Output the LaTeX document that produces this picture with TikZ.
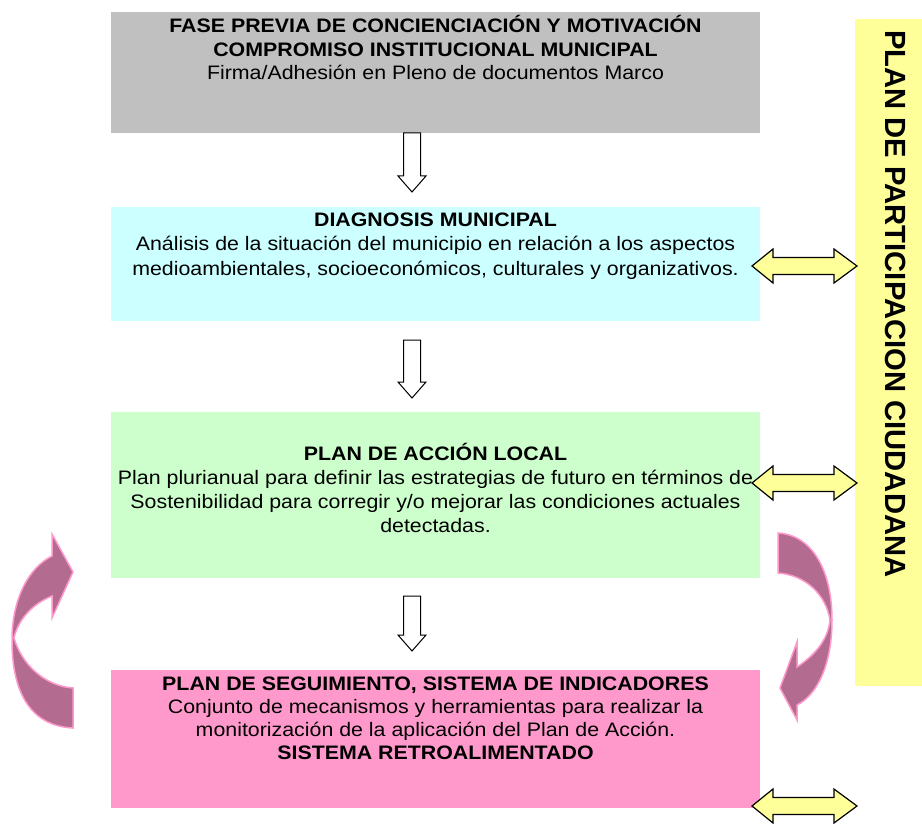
\documentclass[tikz,border=0pt]{standalone}
\usepackage{fontspec}
\setmainfont{Liberation Sans}[FakeStretch=1.095]
\newfontfamily\vertfont{Liberation Sans}
\definecolor{grisbox}{HTML}{C0C0C0}
\definecolor{cyanbox}{HTML}{CCFFFF}
\definecolor{greenbox}{HTML}{CCFFCC}
\definecolor{pinkbox}{HTML}{FF99CC}
\definecolor{yellowbox}{HTML}{FFFF99}
\definecolor{mauve}{HTML}{B36B8F}
\definecolor{pinkedge}{HTML}{FF99CC}
\newcommand{\fl}{\rule{0pt}{18pt}}
\newcommand{\blkdown}[3]{%
  \draw[downarr] (#1-8.5,#2) -- (#1+8.5,#2) -- (#1+8.5,#3-16) -- (#1+14,#3-16)
    -- (#1,#3) -- (#1-14,#3-16) -- (#1-8.5,#3-16) -- cycle;}
\newcommand{\blkdouble}[1]{%
  \draw[dblarr] (752,#1) -- (773,#1-17) -- (773,#1-8.5) -- (834,#1-8.5) -- (834,#1-17)
    -- (857,#1) -- (834,#1+17) -- (834,#1+8.5) -- (773,#1+8.5) -- (773,#1+17) -- cycle;}
\begin{document}
\begin{tikzpicture}[x=1pt,y=-1pt,
  box/.style={draw=none,inner sep=0pt,outer sep=0pt,anchor=north west,minimum width=649pt},
  txt/.style={align=center,inner sep=0pt,anchor=north},
  downarr/.style={draw=black,fill=white,line width=1pt,line join=miter},
  dblarr/.style={draw=black,fill=yellowbox,line width=1.2pt,line join=miter},
  curvarr/.style={fill=mauve,draw=pinkedge,line width=1.5pt,line join=miter}]
\useasboundingbox (0,0) rectangle (922,824);
% boxes
\node[box,fill=grisbox,minimum height=121pt] (b1) at (111,12) {};
\node[box,fill=cyanbox,minimum height=114pt] (b2) at (111,207) {};
\node[box,fill=greenbox,minimum height=166pt] (b3) at (111,412) {};
\node[box,fill=pinkbox,minimum height=138pt] (b4) at (111,670) {};
\node[draw=none,fill=yellowbox,inner sep=0pt,anchor=north west,minimum width=67pt,minimum height=667pt] (py) at (855,19) {};
% texts
\node[txt,font=\fontsize{19.5}{23.4}\selectfont] (t1) at (435.5,14.7)
  {\fl\textbf{FASE PREVIA DE CONCIENCIACIÓN Y MOTIVACIÓN}\\
   \textbf{COMPROMISO INSTITUCIONAL MUNICIPAL}\\
   Firma/Adhesión en Pleno de documentos Marco};
\node[txt,font=\fontsize{19.5}{24.5}\selectfont] (t2) at (435.5,208)
  {\fl\textbf{DIAGNOSIS MUNICIPAL}\\
   Análisis de la situación del municipio en relación a los aspectos\\
   medioambientales, socioeconómicos, culturales y organizativos.};
\node[txt,font=\fontsize{19.5}{23.7}\selectfont] (t3) at (435.5,442.7)
  {\fl\textbf{PLAN DE ACCIÓN LOCAL}\\
   Plan plurianual para definir las estrategias de futuro en términos de\\
   Sostenibilidad para corregir y/o mejorar las condiciones actuales\\
   detectadas.};
\node[txt,font=\fontsize{19.5}{22.7}\selectfont] (t4) at (435.5,672.7)
  {\fl\textbf{PLAN DE SEGUIMIENTO, SISTEMA DE INDICADORES}\\
   Conjunto de mecanismos y herramientas para realizar la\\
   monitorización de la aplicación del Plan de Acción.\\
   \textbf{SISTEMA RETROALIMENTADO}};
\node[inner sep=0pt,rotate=-90,anchor=base west,font=\fontsize{29.2}{30}\selectfont\vertfont] (tp) at (885,30)
  {\textbf{PLAN DE PARTICIPACION CIUDADANA}};
% down arrows
\blkdown{412}{133}{192}
\blkdown{412}{340}{398}
\blkdown{412}{596}{651}
% double arrows
\blkdouble{266}
\blkdouble{483}
\blkdouble{806}
% curved arrows
\draw[curvarr] (73,728) .. controls (32,726) and (12,695) .. (12,640)
  .. controls (12,600) and (28,568) .. (52,556) -- (52,534) -- (73,572) -- (52,618) -- (52,596)
  .. controls (32,604) and (18,620) .. (14,638)
  .. controls (22,665) and (45,686) .. (73,688) -- cycle;
\draw[curvarr] (778,533) .. controls (812,535) and (832,570) .. (832,620)
  .. controls (832,665) and (817,695) .. (797,705) -- (797,720) -- (780,688) -- (797,642) -- (797,667)
  .. controls (815,655) and (828,640) .. (830,620)
  .. controls (826,595) and (806,575) .. (778,573) -- cycle;
\end{tikzpicture}
\end{document}
